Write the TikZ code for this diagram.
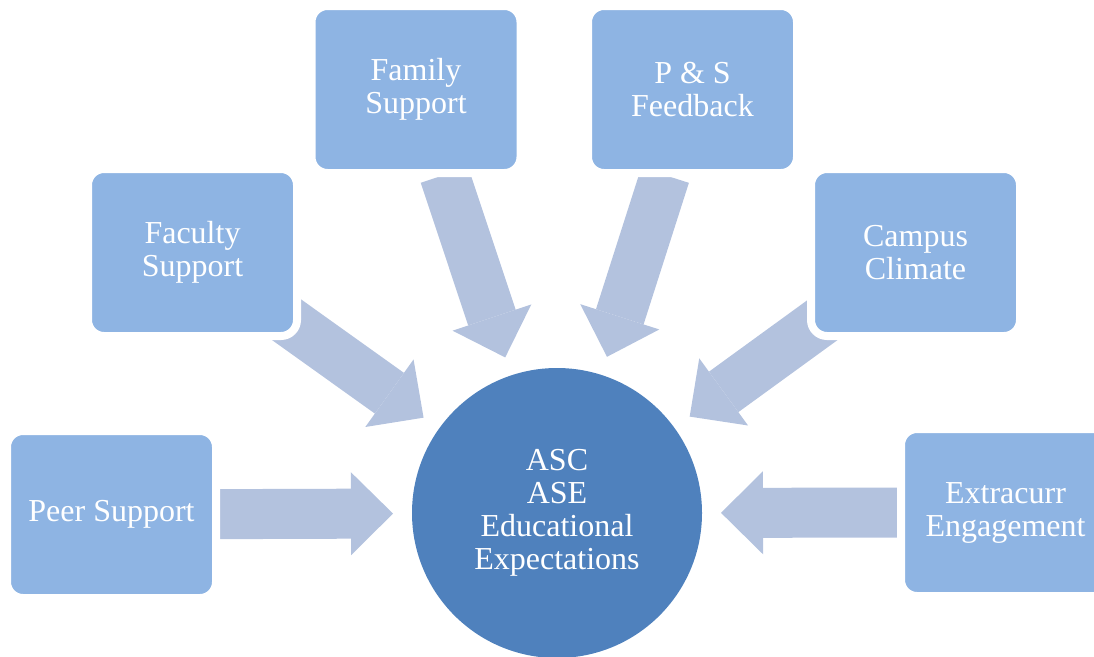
\documentclass[tikz,border=0pt]{standalone}
\usepackage{fontspec}
\setmainfont{Liberation Serif}
\usetikzlibrary{arrows.meta,backgrounds}

\definecolor{boxblue}{RGB}{142,180,227}
\definecolor{flowblue}{RGB}{179,194,222}
\definecolor{hubblue}{RGB}{79,129,189}

\begin{document}
\begin{tikzpicture}[x=1pt, y=-1pt,
	factorbox/.style = {draw=white, line width=8pt, fill=boxblue, rounded corners=16pt, minimum width=209pt, minimum height=167pt, align=center, text=white, font=\fontsize{32}{33}\selectfont},
	hub/.style       = {circle, fill=hubblue, minimum size=290pt, align=center, text=white, font=\fontsize{32}{33}\selectfont},
	flow/.style      = {draw=flowblue, line width=50pt, -{Triangle[length=42pt, width=83pt, line width=0pt]}, shorten >=164pt}]
	
	\useasboundingbox (0,0) rectangle (1094,656);
	
	\node[hub] (ase) at (557,513) {ASC\\ASE\\Educational\\Expectations};
	
	\begin{scope}[every node/.style={factorbox}]
	\node (peer) at (111.5,514.5) {Peer Support};
	\node (faculty) at (192.5,252.5) {Faculty\\Support};
	\node (family) at (416,89.5) {Family\\Support};
	\node (ps) at (692.5,89.5) {P \& S\\Feedback};
	\node (campus) at (915.5,252.5) {Campus\\Climate};
	\node (extra) at (1005.5,512.5) {Extracurr\\Engagement};
	\end{scope}
	
	\begin{pgfonlayer}{background}
	\foreach \src/\gap in {peer/105.5pt, faculty/111pt, family/90pt, ps/90pt, campus/111pt, extra/106.5pt}
	\draw[flow, shorten <=\gap] (\src.center) -- (ase.center);
	\end{pgfonlayer}
	
\end{tikzpicture}
\end{document}
